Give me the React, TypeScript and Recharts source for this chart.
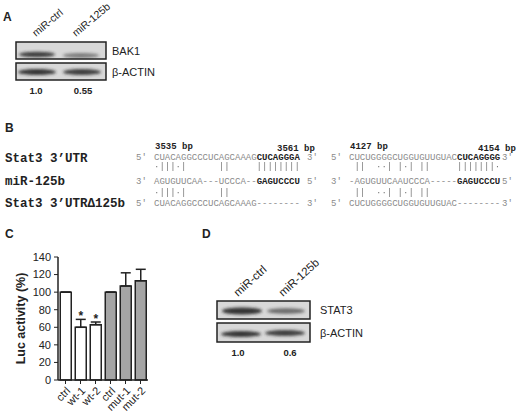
import React from 'react';
import { BarChart, Bar, XAxis, YAxis, Cell, ErrorBar, LabelList } from 'recharts';

// panel C: luciferase reporter
const categories = ['ctrl', 'wt-1', 'wt-2', 'ctrl', 'mut-1', 'mut-2'];
const lucValues = [100, 60, 63, 100, 107, 113];
const lucErrors = [0, 9, 3, 0, 15, 13];
const significance = ['', '*', '*', '', '', ''];
const groups = ['wt', 'wt', 'wt', 'mut', 'mut', 'mut'];
const yTicks = [0, 20, 40, 60, 80, 100, 120, 140];

// panels A and D: blot annotations
const laneLabels = ['miR-ctrl', 'miR-125b'];
const bakRatios = ['1.0', '0.55'];
const stat3Ratios = ['1.0', '0.6'];

// panel B: target sites
const rowNames = ['Stat3 3\u2019UTR', 'miR-125b', 'Stat3 3\u2019UTR\u0394125b'];
const sitePositions = [['3535 bp', '3561 bp'], ['4127 bp', '4154 bp']];
const utrSeqs = [['CUACAGGCCCUCAGCAAAG', 'CUCAGGGA'], ['CUCUGGGGCUGGUGUUGUAC', 'CUCAGGGG']];
const mirSeqs = [['AGUGUUCAA---UCCCA--', 'GAGUCCCU'], ['-AGUGUUCAAUCCCA-----', 'GAGUCCCU']];
const delSeqs = ['CUACAGGCCCUCAGCAAAG--------', 'CUCUGGGGCUGGUGUUGUAC--------'];
const pairLines = ['\u00b7|||\u00b7|      ||     ||||||||', ' ||  \u00b7\u00b7| |\u00b7| ||     |||||||\u00b7'];
const delPairLines = ['\u00b7|||\u00b7|      ||', ' ||  \u00b7\u00b7| |\u00b7| ||'];

const lucData = categories.map((name, i) => ({
  name,
  value: lucValues[i],
  err: [0, lucErrors[i]],
  sig: significance[i],
  group: groups[i],
}));

const SANS = '"Liberation Sans", Arial, sans-serif';
const MONO = '"Liberation Mono", "Courier New", monospace';
const INK = '#222';
const GREY = '#8a8a8a';

const StarLabel = (props: any) => {
  const { x, y, width, height, value, index } = props;
  if (!value) return null;
  const perUnit = height / lucValues[index];
  const top = y - lucErrors[index] * perUnit;
  return (
    <text x={x + width / 2} y={top + 1} textAnchor="middle" fontSize={12} fontWeight="bold" fill={INK} fontFamily={SANS}>
      {value}
    </text>
  );
};

type Band = { cx: number; cy: number; rx: number; ry: number; o: number };

function Blot({ x, y, w, h, bands }: { x: number; y: number; w: number; h: number; bands: Band[] }) {
  return (
    <g>
      <rect x={x} y={y} width={w} height={h} fill="#d8d8d8" />
      {bands.map((b, i) => (
        <ellipse key={i} cx={b.cx} cy={b.cy} rx={b.rx} ry={b.ry} fill="#222" opacity={b.o} filter="url(#blur)" />
      ))}
      <rect x={x} y={y} width={w} height={h} fill="none" stroke={INK} strokeWidth={1.5} />
    </g>
  );
}

function SeqBlock({ x0, block }: { x0: number; block: number }) {
  const mono = { fontFamily: MONO, fontSize: 9, whiteSpace: 'pre' as const };
  const primeL = x0 - 18;
  const primeR = x0 + 153;
  return (
    <g style={mono}>
      <text x={primeL} y={160} fill={GREY}>5'</text>
      <text x={x0} y={160} fill={GREY} xmlSpace="preserve">
        {utrSeqs[block][0]}
        <tspan fontWeight="bold" fill={INK}>{utrSeqs[block][1]}</tspan>
      </text>
      <text x={primeR} y={160} fill={GREY}>3'</text>
      <g opacity={0.99}>
        <text x={x0} y={169} fill="#777" xmlSpace="preserve">{pairLines[block]}</text>
        <text x={x0} y={195} fill="#777" xmlSpace="preserve">{delPairLines[block]}</text>
      </g>
      <text x={primeL} y={184} fill={GREY}>3'</text>
      <text x={x0} y={184} fill={GREY} xmlSpace="preserve">
        {mirSeqs[block][0]}
        <tspan fontWeight="bold" fill={INK}>{mirSeqs[block][1]}</tspan>
      </text>
      <text x={primeR} y={184} fill={GREY}>5'</text>
      <text x={primeL} y={206} fill={GREY}>5'</text>
      <text x={x0} y={206} fill={GREY} xmlSpace="preserve">{delSeqs[block]}</text>
      <text x={primeR} y={206} fill={GREY}>3'</text>
      <text x={x0 + 1} y={149} fill={INK} fontWeight="bold">{sitePositions[block][0]}</text>
    </g>
  );
}

export default function App() {
  return (
    <div style={{ position: 'absolute', left: 0, top: 0, width: 520, height: 416, background: '#fff', overflow: 'hidden', fontFamily: SANS }}>
      <svg width={520} height={416} style={{ position: 'absolute', left: 0, top: 0 }}>
        <defs>
          <filter id="blur" x="-30%" y="-100%" width="160%" height="300%">
            <feGaussianBlur stdDeviation="1.4" />
          </filter>
        </defs>

        {/* panel letters */}
        <g fontFamily={SANS} fontWeight="bold" fontSize={12} fill={INK}>
          <text x={3} y={21}>A</text>
          <text x={5} y={132}>B</text>
          <text x={5} y={238}>C</text>
          <text x={202} y={238}>D</text>
        </g>

        {/* panel A */}
        <g fontFamily={SANS} fontSize={10.5} fill={INK}>
          <text transform="translate(36,37) rotate(-40)">{laneLabels[0]}</text>
          <text transform="translate(76,37) rotate(-40)">{laneLabels[1]}</text>
        </g>
        <Blot x={16} y={42} w={90} h={17} bands={[
          { cx: 37, cy: 54.5, rx: 18, ry: 2.8, o: 0.85 },
          { cx: 81, cy: 55.5, rx: 18, ry: 2.4, o: 0.5 },
        ]} />
        <Blot x={16} y={63} w={90} h={17} bands={[
          { cx: 37, cy: 72, rx: 19, ry: 3, o: 0.9 },
          { cx: 82, cy: 72, rx: 19, ry: 3, o: 0.85 },
        ]} />
        <g fontFamily={SANS} fontSize={11} fill={INK}>
          <text x={112} y={55}>BAK1</text>
          <text x={112} y={76}>{'\u03b2-ACTIN'}</text>
        </g>
        <g fontFamily={SANS} fontSize={9.5} fontWeight="bold" fill={INK} textAnchor="middle">
          <text x={36} y={94}>{bakRatios[0]}</text>
          <text x={83} y={94}>{bakRatios[1]}</text>
        </g>

        {/* panel B */}
        <g fontFamily={MONO} fontSize={12.5} fontWeight="bold" fill={INK}>
          <text x={5} y={162}>{rowNames[0]}</text>
          <text x={5} y={185}>{rowNames[1]}</text>
          <text x={5} y={207}>{rowNames[2]}</text>
        </g>
        <SeqBlock x0={154} block={0} />
        <SeqBlock x0={349} block={1} />
        <g fontFamily={MONO} fontSize={9} fontWeight="bold" fill={INK}>
          <text x={277} y={151}>{sitePositions[0][1]}</text>
          <text x={478} y={151}>{sitePositions[1][1]}</text>
        </g>

        {/* panel D */}
        <g fontFamily={SANS} fontSize={11.5} fill={INK}>
          <text transform="translate(238,297) rotate(-42)">{laneLabels[0]}</text>
          <text transform="translate(283,297) rotate(-42)">{laneLabels[1]}</text>
        </g>
        <Blot x={217} y={301} w={93} h={18} bands={[
          { cx: 242, cy: 311, rx: 20, ry: 3.4, o: 0.9 },
          { cx: 286, cy: 311, rx: 19, ry: 2.8, o: 0.6 },
        ]} />
        <Blot x={217} y={323} w={93} h={19} bands={[
          { cx: 241, cy: 334, rx: 20, ry: 3, o: 0.9 },
          { cx: 285, cy: 333, rx: 20, ry: 3, o: 0.85 },
        ]} />
        <g fontFamily={SANS} fontSize={11} fill={INK}>
          <text x={320} y={314}>STAT3</text>
          <text x={320} y={337}>{'\u03b2-ACTIN'}</text>
        </g>
        <g fontFamily={SANS} fontSize={9.5} fontWeight="bold" fill={INK} textAnchor="middle">
          <text x={238} y={356}>{stat3Ratios[0]}</text>
          <text x={290} y={356}>{stat3Ratios[1]}</text>
        </g>
      </svg>

      {/* panel C */}
      <div style={{ position: 'absolute', left: 0, top: 240 }}>
        <BarChart width={170} height={176} data={lucData} margin={{ top: 17, right: 22, bottom: 0, left: 0 }} barCategoryGap="15%">
          <XAxis
            dataKey="name"
            interval={0}
            height={36}
            tickSize={4}
            angle={-45}
            textAnchor="end"
            axisLine={{ stroke: INK, strokeWidth: 1.5 }}
            tickLine={{ stroke: INK, strokeWidth: 1 }}
            tick={{ fontSize: 11, fill: INK, fontFamily: SANS }}
          />
          <YAxis
            domain={[0, 140]}
            ticks={yTicks}
            width={58}
            tickSize={4}
            tickMargin={3}
            axisLine={{ stroke: INK, strokeWidth: 1.5 }}
            tickLine={{ stroke: INK, strokeWidth: 1 }}
            tick={{ fontSize: 11, fill: INK, fontFamily: SANS }}
            label={{
              value: 'Luc activity (%)',
              angle: -90,
              position: 'insideLeft',
              offset: 21,
              style: { textAnchor: 'middle', fontWeight: 'bold', fontSize: 12.5, fill: INK, fontFamily: SANS },
            }}
          />
          <Bar dataKey="value" stroke={INK} strokeWidth={1.5} isAnimationActive={false}>
            {lucData.map((d, i) => (
              <Cell key={i} fill={d.group === 'wt' ? '#ffffff' : '#a5a5a5'} />
            ))}
            <ErrorBar dataKey="err" width={5} stroke={INK} strokeWidth={1.5} direction="y" isAnimationActive={false} />
            <LabelList dataKey="sig" content={StarLabel} />
          </Bar>
        </BarChart>
      </div>
    </div>
  );
}
